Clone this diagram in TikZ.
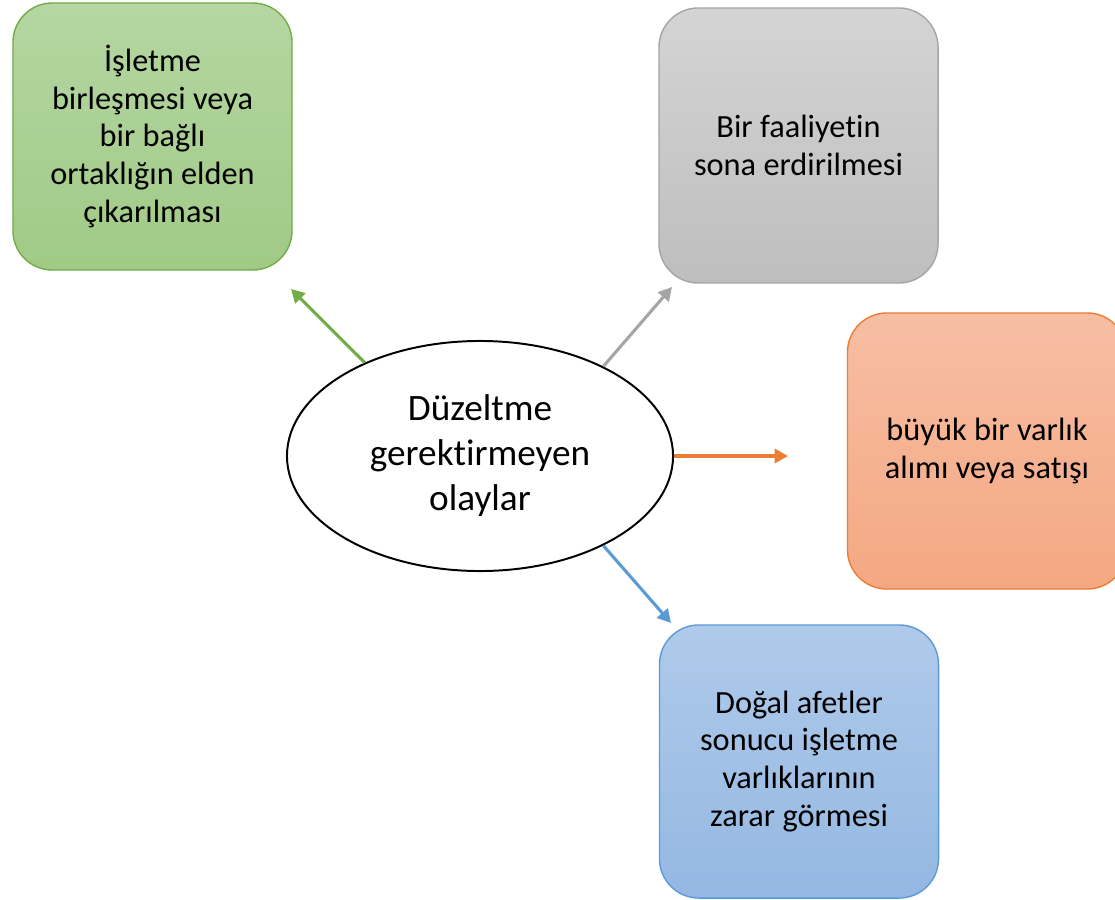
\documentclass[tikz,border=0pt]{standalone}
\usepackage{fontspec}
\setmainfont{Carlito}[Ligatures=NoCommon]
\usetikzlibrary{arrows.meta,shapes.geometric}

\definecolor{greenedge}{HTML}{70AD47}
\definecolor{greentop}{HTML}{B5D6A2}
\definecolor{greenbot}{HTML}{A0CA86}
\definecolor{grayedge}{HTML}{A5A5A5}
\definecolor{graytop}{HTML}{D4D4D4}
\definecolor{graybot}{HTML}{BEBEBE}
\definecolor{orangeedge}{HTML}{ED7D31}
\definecolor{orangetop}{HTML}{F7BEA4}
\definecolor{orangebot}{HTML}{F4A882}
\definecolor{blueedge}{HTML}{5B9BD5}
\definecolor{bluetop}{HTML}{AFCAEA}
\definecolor{bluebot}{HTML}{94B8E2}

\tikzset{
    eventbox/.style={rectangle, rounded corners=28pt, line width=1pt, minimum width=6.975cm,
        align=center, inner sep=0pt, font=\fontsize{23}{27}\selectfont},
    linkarrow/.style={line width=2.2pt, -{Triangle[length=9.5pt,width=10pt]}}
}

\begin{document}
\begin{tikzpicture}[x=0.025cm, y=-0.025cm]
        \clip (0,0) rectangle (1115,899);

        % Draw central ellipse
        \node[ellipse, draw, line width=1.4pt, fill=white, minimum width=9.65cm, minimum height=5.75cm,
            inner sep=0pt, align=center, font=\fontsize{26.5}{32}\selectfont]
            (olaylar) at (480,456) {Düzeltme\\gerektirmeyen\\olaylar};

        % Draw event boxes
        \node[eventbox, draw=greenedge, top color=greentop, bottom color=greenbot, minimum height=6.675cm]
            (birlesme) at (152.5,136.5) {İşletme\\birleşmesi veya\\bir bağlı\\ortaklığın elden\\çıkarılması};
        \node[eventbox, draw=grayedge, top color=graytop, bottom color=graybot, minimum height=6.875cm]
            (faaliyet) at (798.5,145.5) {Bir faaliyetin\\sona erdirilmesi};
        \node[eventbox, draw=orangeedge, top color=orangetop, bottom color=orangebot, minimum height=6.9cm]
            (varlik) at (987,451) {büyük bir varlık\\alımı veya satışı};
        \node[eventbox, draw=blueedge, top color=bluetop, bottom color=bluebot, minimum height=6.825cm]
            (afet) at (799,761.5) {Doğal afetler\\sonucu işletme\\varlıklarının\\zarar görmesi};

        % Arrow ends
        \coordinate (birlesmeUc) at (291,289);
        \coordinate (faaliyetUc) at (672,287);
        \coordinate (varlikUc) at (788,456);
        \coordinate (afetUc) at (671,623);

        % Draw arrows
        \draw[linkarrow, greenedge] (olaylar.141) -- (birlesmeUc);
        \draw[linkarrow, grayedge] (olaylar.36) -- (faaliyetUc);
        \draw[linkarrow, orangeedge] (olaylar.east) -- (varlikUc);
        \draw[linkarrow, blueedge] (olaylar.-36) -- (afetUc);
\end{tikzpicture}
\end{document}
